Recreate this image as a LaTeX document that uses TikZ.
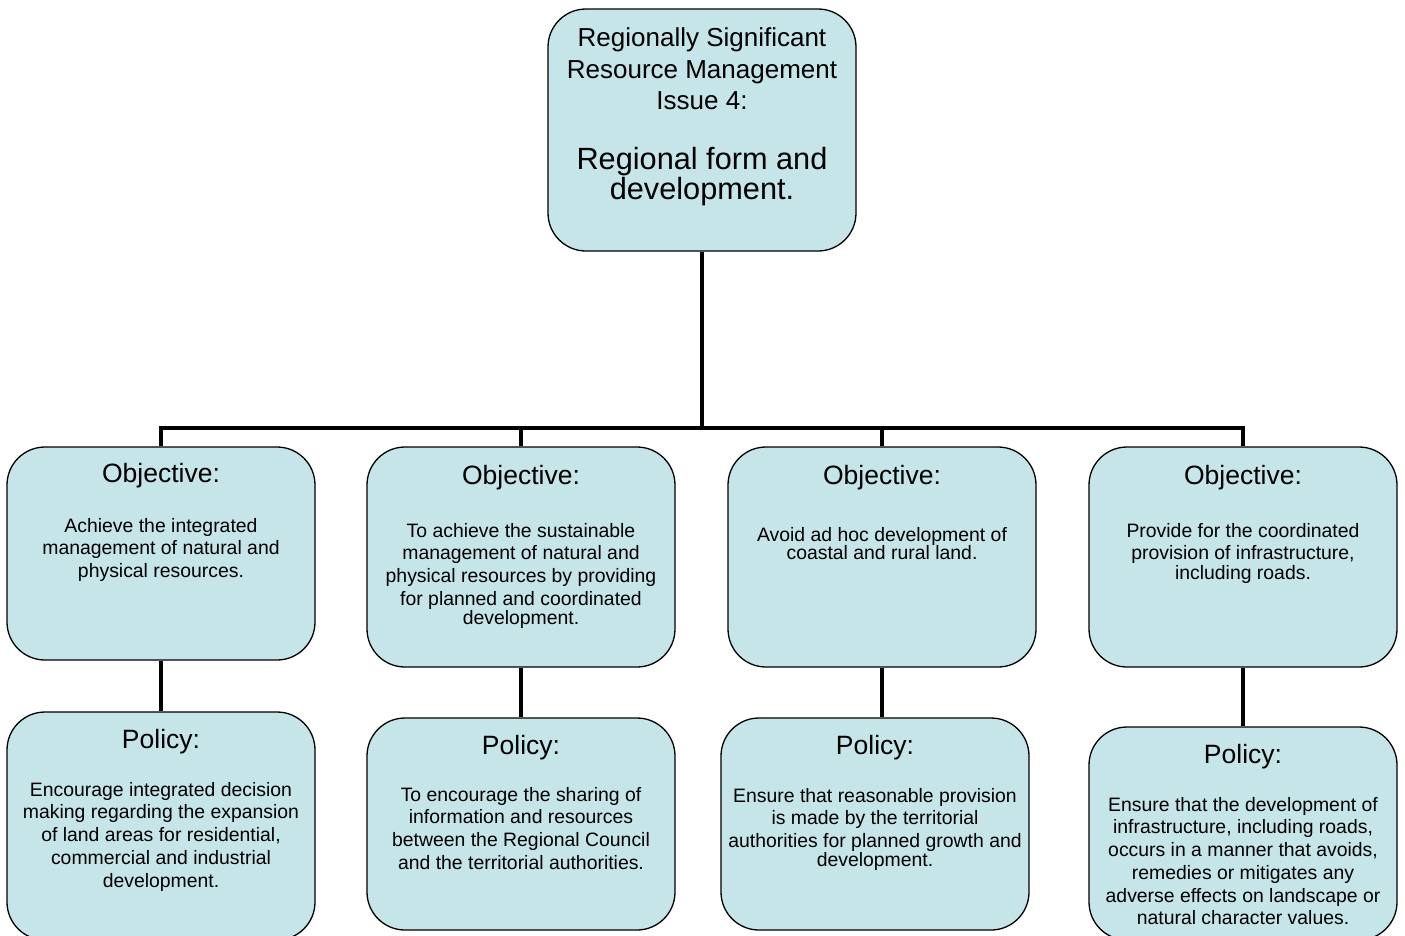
\documentclass[tikz,border=0pt]{standalone}
\usepackage{fontspec}
\setmainfont{Liberation Sans}
\definecolor{boxfill}{RGB}{198,229,232}
\begin{document}
\begin{tikzpicture}[x=1pt,y=-1pt,
  card/.style={draw=black, line width=1.3pt, fill=boxfill, rounded corners=38pt, inner sep=0pt},
  link/.style={line width=4pt},
  headtxt/.style={inner sep=0pt, anchor=north, align=center, font=\fontsize{26.5}{30}\selectfont},
  bodytxt/.style={inner sep=0pt, anchor=north, align=center, font=\fontsize{19.4}{22.7}\selectfont},
  toptxt/.style={inner sep=0pt, anchor=north, align=center, font=\fontsize{26}{31.5}\selectfont},
  bigtxt/.style={inner sep=0pt, anchor=north, align=center, font=\fontsize{30.7}{28.5}\selectfont}]
\useasboundingbox (0,0) rectangle (1405,935);
\clip (0,0) rectangle (1405,935);

% boxes
\node[card, minimum width=308pt, minimum height=242pt] (issue) at (702,130) {};
\node[card, minimum width=308pt, minimum height=213pt] (o1) at (161,553.5) {};
\node[card, minimum width=308pt, minimum height=220pt] (o2) at (521,557) {};
\node[card, minimum width=308pt, minimum height=220pt] (o3) at (882,557) {};
\node[card, minimum width=308pt, minimum height=220pt] (o4) at (1243,557) {};
\node[card, minimum width=308pt, minimum height=228pt] (p1) at (161,826) {};
\node[card, minimum width=308pt, minimum height=212pt] (p2) at (521,824) {};
\node[card, minimum width=308pt, minimum height=212pt] (p3) at (875,824) {};
\node[card, minimum width=308pt, minimum height=213pt] (p4) at (1243,833.5) {};

% connectors
\coordinate (bus) at (702,428);
\draw[link] (issue.south) -- (bus);
\draw[link] (o1.north) |- (bus) -| (o4.north);
\draw[link] (o2.north) -- (o2.north |- bus);
\draw[link] (o3.north) -- (o3.north |- bus);
\draw[link] (o1.south) -- (p1.north);
\draw[link] (o2.south) -- (p2.north);
\draw[link] (o3.south) -- (o3.south |- p3.north);
\draw[link] (o4.south) -- (p4.north);

% top box text
\node[toptxt] (t1) at (702,27.5) {Regionally Significant\\Resource Management\\Issue 4:};
\node[bigtxt] (t2) at (702,147) {Regional form and\\development.};

% objectives
\node[headtxt] (h1) at (161,463.5) {Objective:};
\node[headtxt] (h2) at (521,465.5) {Objective:};
\node[headtxt] (h3) at (882,465.5) {Objective:};
\node[headtxt] (h4) at (1243,465.5) {Objective:};

\node[bodytxt] (b1) at (161,518) {Achieve the integrated\\management of natural and\\physical resources.};
\node[bodytxt] (b2) at (521,523) {To achieve the sustainable\\management of natural and\\physical resources by providing\\for planned and coordinated\\[-4pt]development.};
\node[bodytxt] (b3) at (882,527) {Avoid ad hoc development of\\[-4pt]coastal and rural land.};
\node[bodytxt] (b4) at (1243,523) {Provide for the coordinated\\provision of infrastructure,\\[-3pt]including roads.};

% policies
\node[headtxt] (q1) at (161,729) {Policy:};
\node[headtxt] (q2) at (521,735) {Policy:};
\node[headtxt] (q3) at (875,735) {Policy:};
\node[headtxt] (q4) at (1243,744) {Policy:};

\node[bodytxt] (c1) at (161,782) {Encourage integrated decision\\making regarding the expansion\\of land areas for residential,\\commercial and industrial\\development.};
\node[bodytxt] (c2) at (521,787) {To encourage the sharing of\\information and resources\\between the Regional Council\\and the territorial authorities.};
\node[bodytxt] (c3) at (875,788) {Ensure that reasonable provision\\is made by the territorial\\authorities for planned growth and\\[-4pt]development.};
\node[bodytxt] (c4) at (1243,797) {Ensure that the development of\\infrastructure, including roads,\\occurs in a manner that avoids,\\remedies or mitigates any\\adverse effects on landscape or\\natural character values.};
\end{tikzpicture}
\end{document}
